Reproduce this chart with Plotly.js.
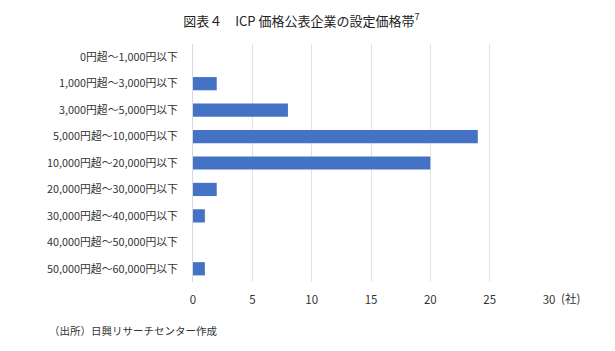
<!DOCTYPE html>
<html>
<head>
<meta charset="utf-8">
<script src="https://cdn.plot.ly/plotly-3.0.1.min.js"></script>
<style>html,body{margin:0;padding:0;background:#fff;}#chart{width:615px;height:351px;}</style>
</head>
<body>
<div id="chart"></div>
<script>
const categories = ["0円超～1,000円以下","1,000円超～3,000円以下","3,000円超～5,000円以下","5,000円超～10,000円以下","10,000円超～20,000円以下","20,000円超～30,000円以下","30,000円超～40,000円以下","40,000円超～50,000円以下","50,000円超～60,000円以下"];
const companies = [0, 2, 8, 24, 20, 2, 1, 0, 1];
const xTicks = [0, 5, 10, 15, 20, 25, 30];

const font = "Noto Sans CJK JP, Noto Sans, sans-serif";
Plotly.newPlot("chart", [{
  type: "bar",
  orientation: "h",
  y: categories,
  x: companies,
  marker: {color: "#4472c4"},
  hoverinfo: "none"
}], {
  width: 615, height: 351,
  margin: {l: 193, r: 66, t: 44, b: 69},
  paper_bgcolor: "#fff", plot_bgcolor: "#fff",
  bargap: 0.5,
  showlegend: false,
  title: {text: "図表４　ICP 価格公表企業の設定価格帯<sup>7</sup>", x: 0.49, xanchor: "center", y: 0.94, yanchor: "middle",
          font: {family: font, size: 13, color: "#222"}},
  xaxis: {range: [0, 30], tickvals: xTicks, showgrid: true, gridcolor: "#e2e2e2", gridwidth: 1,
          zeroline: false, showline: false, ticks: "", ticklen: 0, ticklabelstandoff: 9,
          tickfont: {family: font, size: 11.5, color: "#333"}},
  yaxis: {autorange: "reversed", showline: true, linecolor: "#d9d9d9", linewidth: 1, ticks: "",
          ticklabelstandoff: 12,
          tickfont: {family: font, size: 10.8, color: "#333"}},
  annotations: [
    {text: "(社)", xref: "paper", yref: "paper", x: 1.0, y: 0, xanchor: "left", yanchor: "middle", yshift: -16, xshift: 10,
     showarrow: false, font: {family: font, size: 11.5, color: "#333"}},
    {text: "（出所）日興リサーチセンター作成", xref: "paper", yref: "paper", x: -0.41, y: 0, xanchor: "left", yanchor: "middle", yshift: -48,
     showarrow: false, font: {family: font, size: 10.5, color: "#333"}}
  ]
}, {staticPlot: true});
</script>
</body>
</html>
